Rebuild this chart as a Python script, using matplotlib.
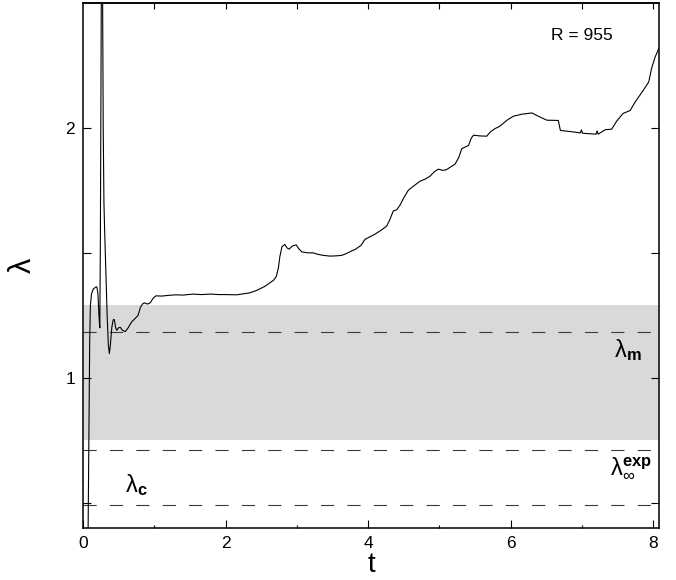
import matplotlib
matplotlib.use("Agg")
import matplotlib.pyplot as plt

plt.rcParams['font.family'] = ['Liberation Sans', 'DejaVu Sans']
plt.rcParams['mathtext.fontset'] = 'custom'
plt.rcParams['mathtext.rm'] = 'Liberation Sans'
plt.rcParams['mathtext.it'] = 'Liberation Sans'
plt.rcParams['mathtext.bf'] = 'Liberation Sans:bold'
plt.rcParams['mathtext.default'] = 'regular'
plt.rcParams['lines.scale_dashes'] = False

# ---- data ----
t = [0.065, 0.08, 0.09, 0.10, 0.115, 0.14, 0.17, 0.19, 0.205, 0.22, 0.232,
     0.24, 0.25, 0.26, 0.27, 0.28, 0.29, 0.30, 0.315, 0.335, 0.352, 0.366,
     0.38, 0.40, 0.42, 0.436, 0.455, 0.47, 0.495, 0.52, 0.55, 0.59, 0.63,
     0.68, 0.72, 0.77, 0.80, 0.83, 0.86, 0.90, 0.94, 0.98, 1.02, 1.1, 1.2,
     1.3, 1.4, 1.545, 1.65, 1.8, 1.9, 2.0, 2.154, 2.25, 2.34, 2.42, 2.48,
     2.55, 2.62, 2.67, 2.71, 2.74, 2.76, 2.79, 2.83, 2.86, 2.89, 2.94, 2.99,
     3.03, 3.07, 3.15, 3.23, 3.28, 3.37, 3.465, 3.55, 3.63, 3.70, 3.77, 3.82,
     3.9, 3.956, 4.03, 4.097, 4.18, 4.26, 4.30, 4.354, 4.40, 4.448, 4.50,
     4.565, 4.65, 4.73, 4.80, 4.87, 4.93, 4.986, 5.05, 5.10, 5.22, 5.27,
     5.315, 5.41, 5.45, 5.48, 5.57, 5.665, 5.72, 5.78, 5.85, 5.95, 6.04,
     6.16, 6.30, 6.39, 6.51, 6.67, 6.70, 6.88, 6.98, 6.995, 7.01, 7.05,
     7.20, 7.215, 7.23, 7.33, 7.42, 7.49, 7.58, 7.68, 7.75, 7.865, 7.94,
     7.98, 8.03, 8.085]
lam = [0.30, 0.80, 1.15, 1.29, 1.335, 1.355, 1.362, 1.364, 1.34, 1.25, 1.20,
       1.55, 2.40, 2.80, 2.60, 2.00, 1.70, 1.59, 1.45, 1.25, 1.13, 1.097,
       1.13, 1.20, 1.232, 1.233, 1.20, 1.19, 1.20, 1.202, 1.19, 1.185, 1.20,
       1.224, 1.235, 1.25, 1.28, 1.295, 1.30, 1.295, 1.30, 1.318, 1.328, 1.327, 1.33,
       1.332, 1.331, 1.335, 1.333, 1.335, 1.333, 1.333, 1.332, 1.336, 1.34, 1.348, 1.356,
       1.366, 1.38, 1.39, 1.405, 1.44, 1.484, 1.525, 1.534, 1.52, 1.515, 1.528, 1.532,
       1.515, 1.504, 1.50, 1.50, 1.495, 1.49, 1.487, 1.488, 1.49, 1.498, 1.508, 1.514,
       1.53, 1.554, 1.565, 1.575, 1.59, 1.607, 1.63, 1.668, 1.672, 1.691, 1.72,
       1.751, 1.77, 1.787, 1.795, 1.807, 1.825, 1.835, 1.83, 1.833, 1.855, 1.88,
       1.917, 1.93, 1.96, 1.971, 1.968, 1.967, 1.985, 1.997, 2.007, 2.031, 2.047,
       2.055, 2.06, 2.047, 2.031, 2.03, 1.99, 1.984, 1.980, 1.992, 1.979, 1.978,
       1.975, 1.988, 1.975, 1.993, 1.995, 2.027, 2.058, 2.07, 2.104, 2.151, 2.184,
       2.238, 2.284, 2.32]

lambda_m = 1.184
lambda_exp = 0.71
lambda_c = 0.49
band = (0.75, 1.29)
R_label = "R = 955"

xlim = (0, 8.085)
ylim = (0.4, 2.5)
xticks = [0, 2, 4, 6, 8]
xminor = [1, 3, 5, 7]
yticks = [0.5, 1, 1.5, 2]
ylabels = ["", "1", "", "2"]

# ---- figure ----
fig = plt.figure(figsize=(6.76, 5.8), dpi=100)
ax = fig.add_axes([0.1232, 0.0902, 0.8517, 0.9046])

ax.axhspan(band[0], band[1], color='#d8d9db', lw=0, zorder=0)
for yv in (lambda_m, lambda_exp, lambda_c):
    ax.axhline(yv, color='#3a3a3a', lw=0.8, dashes=(9.5, 9.5), zorder=1)
ax.plot(t, lam, color='black', lw=0.8, zorder=3)

ax.set_xlim(*xlim)
ax.set_ylim(*ylim)
ax.set_xticks(xticks)
ax.set_xticks(xminor, minor=True)
ax.set_yticks(yticks)
ax.set_yticklabels(ylabels)
ax.tick_params(axis='both', which='major', direction='in', length=5.5, width=0.8,
               labelsize=12.5, pad=6)
ax.tick_params(axis='x', which='minor', direction='in', length=2.5, width=0.8)
ax.tick_params(axis='y', which='major', right=True)
for s in ax.spines.values():
    s.set_linewidth(1.1)

sec = ax.secondary_xaxis('top')
sec.set_xticks([1, 2, 3, 4, 5, 6, 7, 8])
sec.tick_params(direction='in', length=4.5, width=0.8, labeltop=False)
sec.spines['top'].set_linewidth(1.1)

ax.set_xlabel('t', fontsize=20, labelpad=1)
ax.set_ylabel('λ', fontsize=22, rotation=90, labelpad=20)

ax.text(6.57, 2.37, R_label, fontsize=12.5, ha='left', va='center')
ax.text(7.45, 1.11, r'$λ_{\mathbf{m}}$', fontsize=17, ha='left', va='center')
ax.text(7.39, 0.64, r'$λ^{\mathbf{exp}}_{∞}$', fontsize=17, ha='left', va='center')
ax.text(0.58, 0.57, r'$λ_{\mathbf{c}}$', fontsize=17, ha='left', va='center')

fig.savefig('out.png', dpi=100)
